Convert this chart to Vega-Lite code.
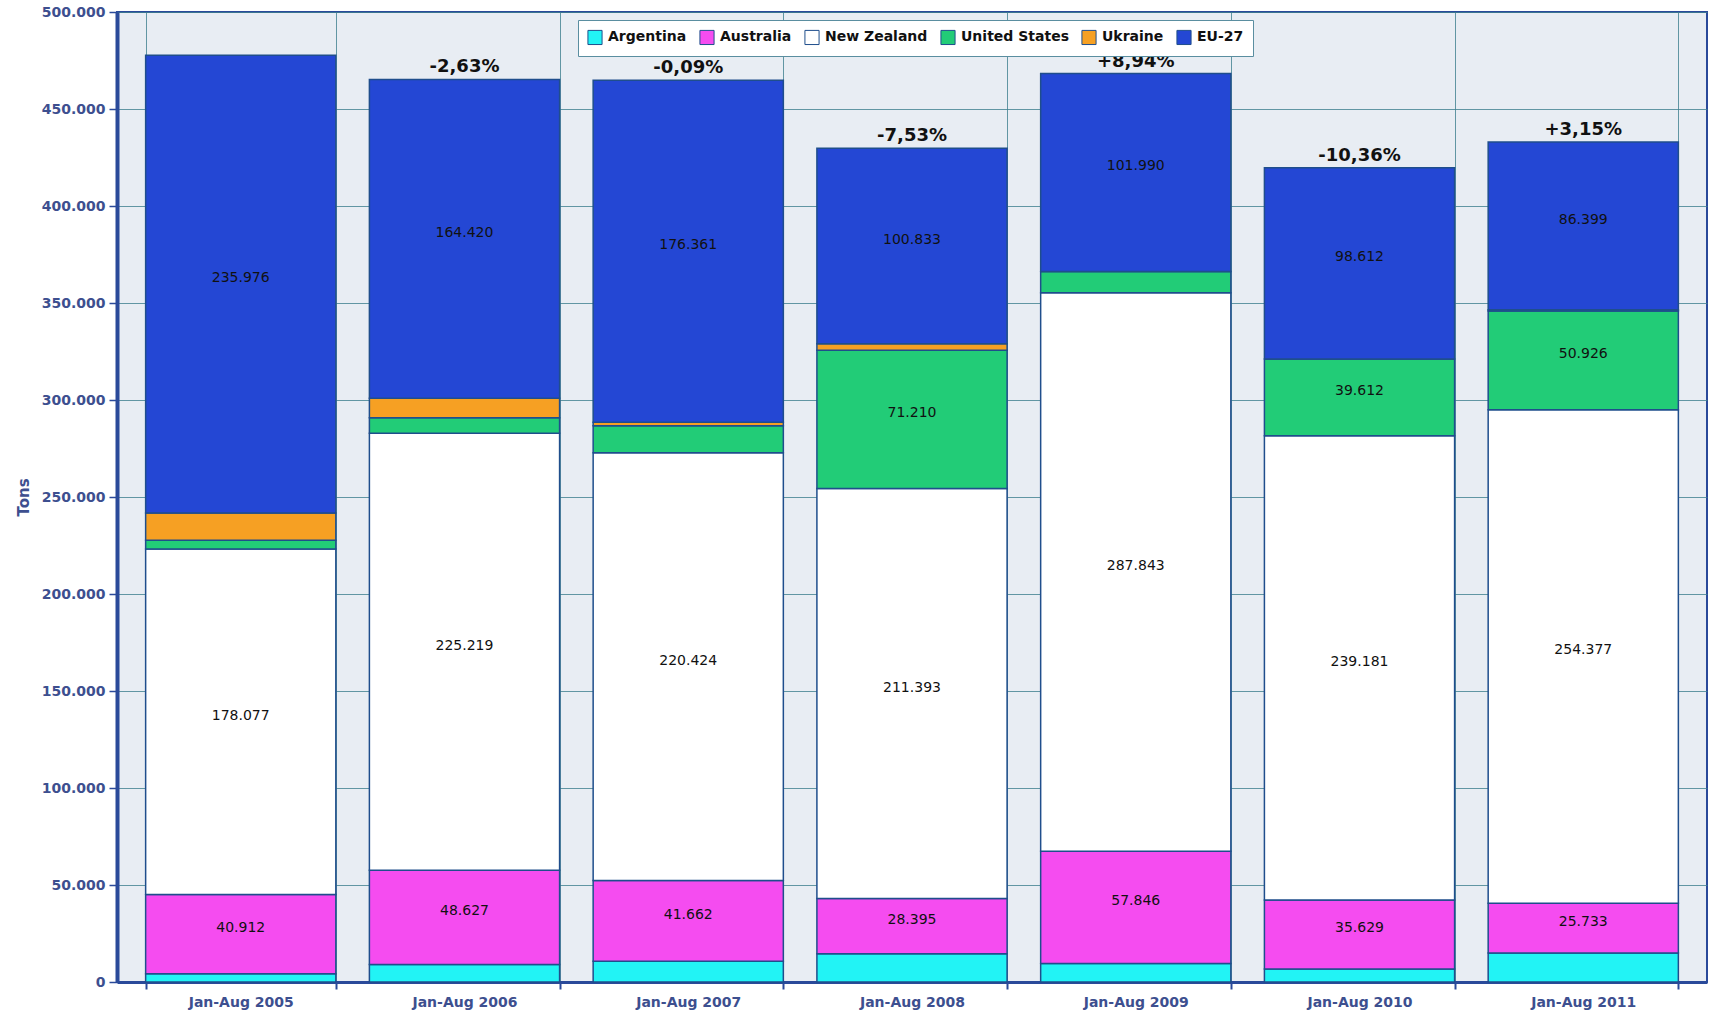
{
  "$schema": "https://vega.github.io/schema/vega-lite/v6.json",
  "width": 1590,
  "height": 970,
  "autosize": {"type": "none"},
  "padding": {"left": 117, "top": 12, "right": 4, "bottom": 32},
  "background": "#ffffff",
  "config": {
    "view": {"fill": "#e8edf3", "stroke": "#2a4a9a", "strokeWidth": 2},
    "font": "DejaVu Sans",
    "locale": {"number": {"decimal": ",", "thousands": ".", "grouping": [3], "currency": ["", ""]}}
  },
  "data": {
    "values": [
      {"period": "Jan-Aug 2005", "country": "Argentina", "ord": 1, "value": 4200},
      {"period": "Jan-Aug 2005", "country": "Australia", "ord": 2, "value": 40912},
      {"period": "Jan-Aug 2005", "country": "New Zealand", "ord": 3, "value": 178077},
      {"period": "Jan-Aug 2005", "country": "United States", "ord": 4, "value": 4500},
      {"period": "Jan-Aug 2005", "country": "Ukraine", "ord": 5, "value": 14000},
      {"period": "Jan-Aug 2005", "country": "EU-27", "ord": 6, "value": 235976},
      {"period": "Jan-Aug 2006", "country": "Argentina", "ord": 1, "value": 9000},
      {"period": "Jan-Aug 2006", "country": "Australia", "ord": 2, "value": 48627},
      {"period": "Jan-Aug 2006", "country": "New Zealand", "ord": 3, "value": 225219},
      {"period": "Jan-Aug 2006", "country": "United States", "ord": 4, "value": 8000},
      {"period": "Jan-Aug 2006", "country": "Ukraine", "ord": 5, "value": 10000},
      {"period": "Jan-Aug 2006", "country": "EU-27", "ord": 6, "value": 164420, "pct": "-2,63%"},
      {"period": "Jan-Aug 2007", "country": "Argentina", "ord": 1, "value": 10700},
      {"period": "Jan-Aug 2007", "country": "Australia", "ord": 2, "value": 41662},
      {"period": "Jan-Aug 2007", "country": "New Zealand", "ord": 3, "value": 220424},
      {"period": "Jan-Aug 2007", "country": "United States", "ord": 4, "value": 14000},
      {"period": "Jan-Aug 2007", "country": "Ukraine", "ord": 5, "value": 1700},
      {"period": "Jan-Aug 2007", "country": "EU-27", "ord": 6, "value": 176361, "pct": "-0,09%"},
      {"period": "Jan-Aug 2008", "country": "Argentina", "ord": 1, "value": 14600},
      {"period": "Jan-Aug 2008", "country": "Australia", "ord": 2, "value": 28395},
      {"period": "Jan-Aug 2008", "country": "New Zealand", "ord": 3, "value": 211393},
      {"period": "Jan-Aug 2008", "country": "United States", "ord": 4, "value": 71210},
      {"period": "Jan-Aug 2008", "country": "Ukraine", "ord": 5, "value": 3400},
      {"period": "Jan-Aug 2008", "country": "EU-27", "ord": 6, "value": 100833, "pct": "-7,53%"},
      {"period": "Jan-Aug 2009", "country": "Argentina", "ord": 1, "value": 9600},
      {"period": "Jan-Aug 2009", "country": "Australia", "ord": 2, "value": 57846},
      {"period": "Jan-Aug 2009", "country": "New Zealand", "ord": 3, "value": 287843},
      {"period": "Jan-Aug 2009", "country": "United States", "ord": 4, "value": 11000},
      {"period": "Jan-Aug 2009", "country": "Ukraine", "ord": 5, "value": 0},
      {"period": "Jan-Aug 2009", "country": "EU-27", "ord": 6, "value": 101990, "pct": "+8,94%"},
      {"period": "Jan-Aug 2010", "country": "Argentina", "ord": 1, "value": 6700},
      {"period": "Jan-Aug 2010", "country": "Australia", "ord": 2, "value": 35629},
      {"period": "Jan-Aug 2010", "country": "New Zealand", "ord": 3, "value": 239181},
      {"period": "Jan-Aug 2010", "country": "United States", "ord": 4, "value": 39612},
      {"period": "Jan-Aug 2010", "country": "Ukraine", "ord": 5, "value": 0},
      {"period": "Jan-Aug 2010", "country": "EU-27", "ord": 6, "value": 98612, "pct": "-10,36%"},
      {"period": "Jan-Aug 2011", "country": "Argentina", "ord": 1, "value": 14900},
      {"period": "Jan-Aug 2011", "country": "Australia", "ord": 2, "value": 25733},
      {"period": "Jan-Aug 2011", "country": "New Zealand", "ord": 3, "value": 254377},
      {"period": "Jan-Aug 2011", "country": "United States", "ord": 4, "value": 50926},
      {"period": "Jan-Aug 2011", "country": "Ukraine", "ord": 5, "value": 600},
      {"period": "Jan-Aug 2011", "country": "EU-27", "ord": 6, "value": 86399, "pct": "+3,15%"}
    ]
  },
  "transform": [
    {"stack": "value", "groupby": ["period"], "sort": [{"field": "ord", "order": "ascending"}], "as": ["y0", "y1"]},
    {"calculate": "(datum.y0 + datum.y1) / 2", "as": "mid"}
  ],
  "encoding": {
    "x": {
      "field": "period",
      "type": "nominal",
      "title": null,
      "scale": {"paddingInner": 0.15, "paddingOuter": 0.128},
      "axis": {
        "labelAngle": 0,
        "labelFont": "DejaVu Sans",
        "labelFontWeight": "bold",
        "labelFontSize": 14,
        "labelColor": "#3d4f8f",
        "labelPadding": 6,
        "tickBand": "extent",
        "grid": true,
        "gridColor": "#3f7f8f",
        "gridWidth": 1,
        "gridOpacity": 0.8,
        "domainColor": "#2a4a9a",
        "domainWidth": 3,
        "tickColor": "#2a4a9a",
        "tickSize": 7,
        "tickWidth": 2
      }
    }
  },
  "layer": [
    {
      "mark": {"type": "bar", "stroke": "#1f4e8c", "strokeWidth": 1.5},
      "encoding": {
        "y": {
          "field": "y1",
          "type": "quantitative",
          "scale": {"domain": [0, 500000], "nice": false},
          "title": "Tons",
          "axis": {
            "values": [0, 50000, 100000, 150000, 200000, 250000, 300000, 350000, 400000, 450000, 500000],
            "format": ",d",
            "labelFont": "DejaVu Sans",
            "labelFontWeight": "bold",
            "labelFontSize": 14,
            "labelColor": "#3d4f8f",
            "labelPadding": 4,
            "titleFont": "DejaVu Sans",
            "titleFontWeight": "bold",
            "titleFontSize": 15,
            "titleColor": "#3d4f8f",
            "titlePadding": 10,
            "grid": true,
            "gridColor": "#3f7f8f",
            "gridWidth": 1,
            "gridOpacity": 0.8,
            "domainColor": "#2a4a9a",
            "domainWidth": 4,
            "tickColor": "#2a4a9a",
            "tickSize": 8,
            "tickWidth": 1.5
          }
        },
        "y2": {"field": "y0"},
        "color": {
          "field": "country",
          "type": "nominal",
          "scale": {
            "domain": ["Argentina", "Australia", "New Zealand", "United States", "Ukraine", "EU-27"],
            "range": ["#22f3f5", "#f54cf0", "#ffffff", "#22cc77", "#f6a023", "#2447d4"]
          },
          "legend": {
            "title": null,
            "orient": "none",
            "direction": "horizontal",
            "legendX": 461,
            "legendY": 8,
            "fillColor": "#ffffff",
            "strokeColor": "#5a8ea0",
            "padding": 9,
            "symbolType": "square",
            "symbolSize": 200,
            "symbolStrokeColor": "#1f4e8c",
            "symbolStrokeWidth": 1,
            "labelFont": "DejaVu Sans",
            "labelFontWeight": "bold",
            "labelFontSize": 14,
            "labelColor": "#111111",
            "columnPadding": 10,
            "labelOffset": 5
          }
        }
      }
    },
    {
      "transform": [{"filter": "datum.value > 20000"}],
      "mark": {"type": "text", "font": "DejaVu Sans", "fontSize": 14, "color": "#111111", "dy": -6},
      "encoding": {
        "y": {"field": "mid", "type": "quantitative"},
        "text": {"field": "value", "type": "quantitative", "format": ",d"}
      }
    },
    {
      "transform": [{"filter": "datum.pct != null"}],
      "mark": {"type": "text", "font": "DejaVu Sans", "fontSize": 18, "fontWeight": "bold", "color": "#111111", "baseline": "bottom", "dy": -3},
      "encoding": {
        "y": {"field": "y1", "type": "quantitative"},
        "text": {"field": "pct", "type": "nominal"}
      }
    }
  ]
}
